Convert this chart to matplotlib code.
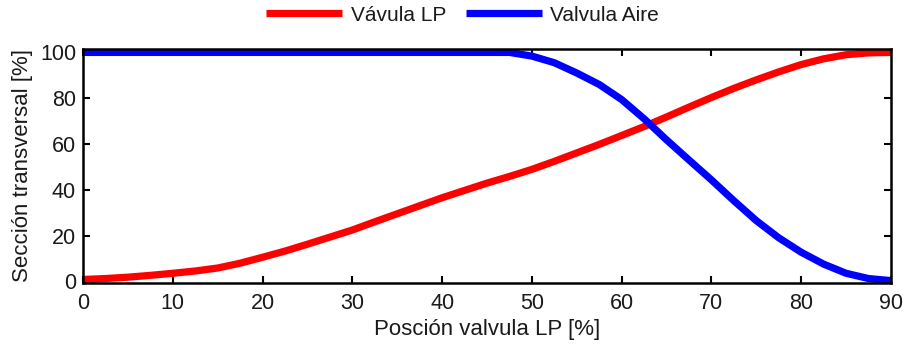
import matplotlib.pyplot as plt

# Cross-section opening of each valve vs. LP valve position
POS_LP = [0, 2.5, 5, 7.5, 10, 12.5, 15, 17.5, 20, 22.5, 25, 27.5, 30, 32.5, 35,
          37.5, 40, 42.5, 45, 47.5, 50, 52.5, 55, 57.5, 60, 62.5, 65, 67.5, 70,
          72.5, 75, 77.5, 80, 82.5, 85, 87.5, 90]
SEC_LP = [0.8, 1.2, 1.8, 2.6, 3.5, 4.5, 5.8, 7.9, 10.5, 13.2, 16.2, 19.3, 22.4,
          26.0, 29.5, 33.0, 36.5, 39.7, 42.9, 45.8, 48.9, 52.4, 56.1, 59.8,
          63.7, 67.6, 71.8, 76.1, 80.3, 84.3, 88.0, 91.5, 94.7, 97.2, 99.0,
          99.8, 100.0]

POS_AIRE = [0, 10, 20, 30, 40, 47.5, 50, 52.5, 55, 57.5, 60, 62.5, 65, 67.5,
            70, 72.5, 75, 77.5, 80, 82.5, 85, 87.5, 90]
SEC_AIRE = [100, 100, 100, 100, 100, 100, 98.4, 95.5, 91.0, 86.0, 79.4, 71.0,
            61.8, 53.0, 44.3, 35.2, 26.5, 19.0, 12.7, 7.5, 3.5, 1.2, 0.3]

X_TICKS = [0, 10, 20, 30, 40, 50, 60, 70, 80, 90]
Y_TICKS = [0, 20, 40, 60, 80, 100]

TEXT = "#1a1a1a"
plt.rcParams["font.family"] = ["Liberation Sans", "DejaVu Sans"]
plt.rcParams["font.size"] = 15
plt.rcParams["text.color"] = TEXT
plt.rcParams["axes.labelcolor"] = TEXT

fig = plt.figure(figsize=(9.04, 3.45), dpi=100)
ax = fig.add_axes([0.0918, 0.180, 0.8938, 0.678])

line_kw = dict(lw=5.2, solid_joinstyle="round", solid_capstyle="butt")
ax.plot(POS_LP, SEC_LP, color="#ff0000", label="Vávula LP", **line_kw)
ax.plot(POS_AIRE, SEC_AIRE, color="#0000ff", label="Valvula Aire", **line_kw)

ax.set_xlim(0, 90)
ax.set_ylim(-0.7, 101.5)
ax.set_xticks(X_TICKS)
ax.set_yticks(Y_TICKS)
ax.tick_params(direction="in", top=True, right=True, length=5, width=1.5,
               labelsize=15.5, labelcolor=TEXT)
ax.tick_params(axis="x", pad=7)
ax.tick_params(axis="y", pad=5)
for sp in ax.spines.values():
    sp.set_linewidth(1.8)

ax.set_xlabel("Posción valvula LP [%]", fontsize=16, labelpad=4)
ax.set_ylabel("Sección transversal [%]", fontsize=16, labelpad=5)

ax.legend(loc="center", bbox_to_anchor=(0.47, 1.145), ncol=2,
          frameon=False, fontsize=15, handlelength=3.65, handletextpad=0.4,
          columnspacing=0.95, borderaxespad=0)

fig.savefig("out.png", dpi=100, facecolor="white")
